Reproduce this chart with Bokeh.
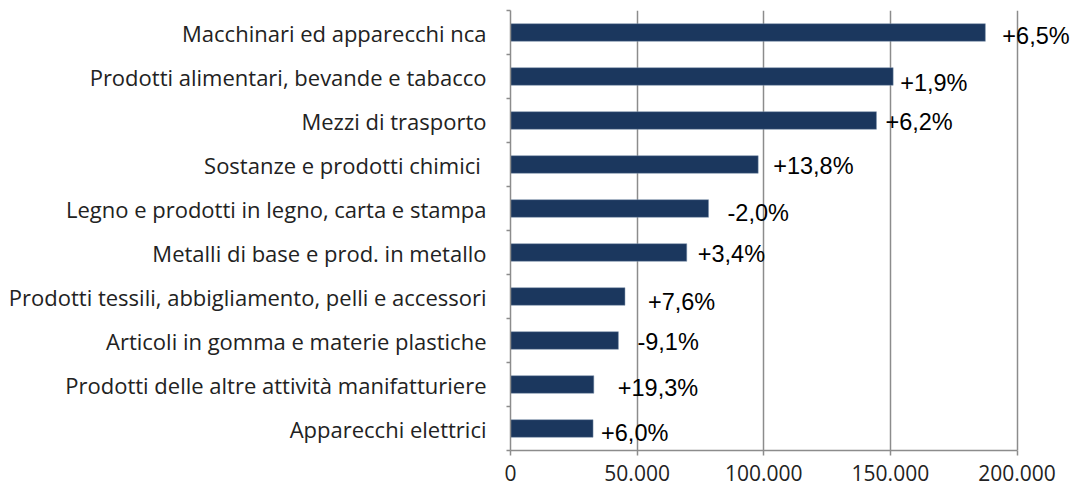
from bokeh.plotting import figure
from bokeh.models import ColumnDataSource, Range1d, FixedTicker
from bokeh.core.properties import value
from bokeh.embed import file_html
from bokeh.resources import INLINE

categories = [
    "Macchinari ed apparecchi nca",
    "Prodotti alimentari, bevande e tabacco",
    "Mezzi di trasporto",
    "Sostanze e prodotti chimici ",
    "Legno e prodotti in legno, carta e stampa",
    "Metalli di base e prod. in metallo",
    "Prodotti tessili, abbigliamento, pelli e accessori",
    "Articoli in gomma e materie plastiche",
    "Prodotti delle altre attività manifatturiere",
    "Apparecchi elettrici",
]
values = [187500, 151100, 144500, 97800, 78200, 69600, 45200, 42600, 32900, 32600]
changes = ["+6,5%", "+1,9%", "+6,2%", "+13,8%", "-2,0%", "+3,4%", "+7,6%", "-9,1%", "+19,3%", "+6,0%"]
x_ticks = [0, 50000, 100000, 150000, 200000]
x_tick_labels = ["0", "50.000", "100.000", "150.000", "200.000"]

# label placement offsets (pixels), as in the original layout
label_dx = [17, 7, 9, 15, 19, 11, 23, 19, 24, 8]
label_dy = [3, 6, 1, 1, 4, 1, 5, 1, 3.5, 4]

ypos = [i + 0.5 for i in range(len(categories))]

src = ColumnDataSource(dict(y=ypos, v=values, t=changes, dx=label_dx, dy=label_dy))

W, H = 1073, 488
left, right, top, bottom = 510, 0, 10, 38
frame_w = W - left - right
px_per_unit = 506.5 / 200000
x_end = frame_w / px_per_unit

p = figure(width=W, height=H, output_backend="svg", toolbar_location=None,
           x_range=Range1d(0, x_end), y_range=Range1d(len(categories), 0),
           min_border_left=left, min_border_right=right,
           min_border_top=top, min_border_bottom=bottom)
p.outline_line_color = None
p.background_fill_color = "white"
p.border_fill_color = "white"

p.hbar(y="y", left=0, right="v", height=0.4, source=src,
       fill_color="#1b375e", line_color="#7d92ad", line_width=0.5)

p.text(x="v", y="y", text="t", x_offset="dx", y_offset="dy", source=src,
       text_align="left", text_baseline="middle",
       text_font=value("Liberation Sans"), text_font_size="23.5px", text_color="#000000")

grid_color = "#8c8c8c"

# x axis
xa = p.xaxis[0]
xa.ticker = FixedTicker(ticks=x_ticks)
xa.major_label_overrides = {t: l for t, l in zip(x_ticks, x_tick_labels)}
xa.bounds = (0, 200000)
xa.axis_line_color = grid_color
xa.axis_line_width = 1.5
xa.major_tick_line_color = grid_color
xa.major_tick_line_width = 1.5
xa.major_tick_out = 5
xa.major_tick_in = 0
xa.minor_tick_line_color = None
xa.major_label_standoff = 9
xa.major_label_text_font = "Open Sans"
xa.major_label_text_font_size = "21px"
xa.major_label_text_color = "#222222"

# y axis
ya = p.yaxis[0]
ya.ticker = FixedTicker(ticks=ypos, minor_ticks=list(range(len(categories) + 1)))
ya.major_label_overrides = {y: c for y, c in zip(ypos, categories)}
ya.axis_line_color = grid_color
ya.axis_line_width = 1.5
ya.major_tick_line_color = None
ya.major_tick_out = 0
ya.major_tick_in = 0
ya.minor_tick_line_color = grid_color
ya.minor_tick_line_width = 1.5
ya.minor_tick_out = 4
ya.minor_tick_in = 0
ya.major_label_standoff = 20
ya.major_label_text_font = "Open Sans"
ya.major_label_text_font_size = "22px"
ya.major_label_text_color = "#222222"

p.xgrid.ticker = FixedTicker(ticks=x_ticks[1:])
p.xgrid.grid_line_color = grid_color
p.xgrid.grid_line_width = 1.5
p.ygrid.grid_line_color = None

open("out.html", "w").write(file_html(p, INLINE))
